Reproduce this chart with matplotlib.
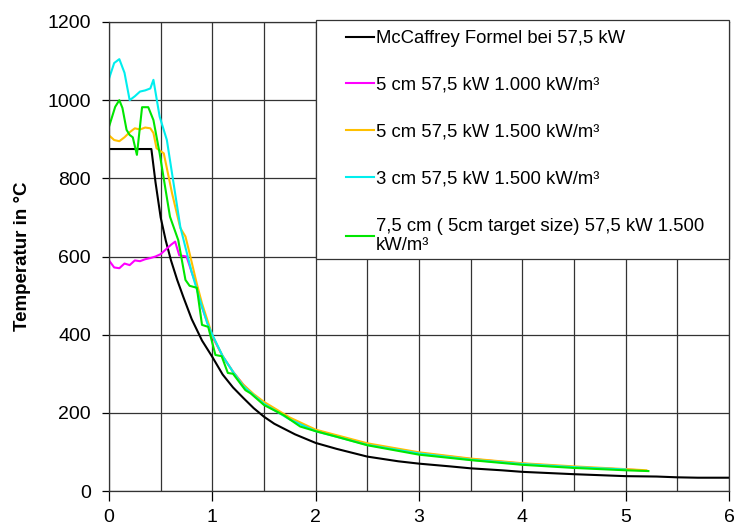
import matplotlib
matplotlib.use("Agg")
import matplotlib.pyplot as plt
from matplotlib.patches import Rectangle
from matplotlib.ticker import MultipleLocator

plt.rcParams['font.family'] = ['Liberation Sans', 'DejaVu Sans']

# McCaffrey plume temperature
x_mcc = [0, 0.41, 0.45, 0.5, 0.55, 0.6, 0.66, 0.72, 0.8, 0.9, 1.0, 1.1, 1.2, 1.3, 1.4,
         1.5, 1.6, 1.8, 2.0, 2.2, 2.5, 2.8, 3.0, 3.3, 3.5, 3.8, 4.0, 4.5, 5.0, 5.3,
         5.5, 5.7, 6.0]
t_mcc = [875, 875, 790, 700, 640, 590, 540, 496, 440, 385, 343, 298, 265, 238, 212,
         190, 172, 145, 123, 108, 88, 76, 70, 63, 58, 53, 49, 43, 38, 37, 35, 34, 34]

# 5 cm, 1000 kW/m3
x_5a = [0, 0.05, 0.1, 0.15, 0.2, 0.25, 0.3, 0.35, 0.4, 0.45, 0.5, 0.55, 0.6, 0.64,
        0.68, 0.75, 0.8, 0.85, 0.9, 1.0, 1.1, 1.2, 1.3, 1.4, 1.5, 1.75, 2.0, 2.5,
        3.0, 3.5, 4.0, 4.5, 5.0, 5.15]
t_5a = [590, 572, 570, 582, 578, 590, 588, 593, 596, 600, 606, 618, 630, 638, 603,
        600, 560, 523, 470, 395, 345, 305, 272, 245, 225, 185, 155, 120, 97, 82, 70,
        61, 55, 53]

# 5 cm, 1500 kW/m3
x_5b = [0, 0.05, 0.1, 0.15, 0.2, 0.25, 0.3, 0.35, 0.4, 0.43, 0.46, 0.53, 0.61, 0.69,
        0.74, 0.78, 0.85, 0.9, 1.0, 1.1, 1.2, 1.3, 1.4, 1.5, 1.75, 2.0, 2.5, 3.0,
        3.5, 4.0, 4.5, 5.0, 5.2]
t_5b = [910, 898, 895, 905, 918, 928, 925, 930, 928, 916, 877, 864, 762, 673, 651,
        608, 530, 480, 398, 345, 305, 272, 248, 228, 188, 157, 122, 99, 83, 71, 63,
        56, 53]

# 3 cm, 1500 kW/m3
x_3 = [0, 0.05, 0.1, 0.15, 0.2, 0.25, 0.3, 0.35, 0.4, 0.43, 0.49, 0.56, 0.69, 0.8,
       0.88, 0.95, 1.0, 1.1, 1.2, 1.3, 1.4, 1.5, 1.75, 2.0, 2.5, 3.0, 3.5, 4.0, 4.5,
       5.0]
t_3 = [1055, 1095, 1105, 1070, 1000, 1010, 1022, 1025, 1030, 1052, 958, 898, 676,
       560, 489, 430, 400, 345, 305, 268, 245, 223, 183, 153, 118, 96, 80, 69, 61, 55]

# 7,5 cm (5 cm target size), 1500 kW/m3
x_75 = [0, 0.06, 0.1, 0.13, 0.17, 0.2, 0.23, 0.27, 0.32, 0.38, 0.43, 0.49, 0.59,
        0.67, 0.74, 0.78, 0.85, 0.9, 0.96, 1.03, 1.09, 1.15, 1.2, 1.32, 1.37, 1.5,
        1.69, 1.85, 2.0, 2.2, 2.5, 3.0, 3.5, 4.0, 4.5, 5.0, 5.22]
t_75 = [932, 983, 1000, 980, 924, 911, 905, 860, 982, 982, 949, 864, 702, 642, 540,
        525, 520, 425, 420, 348, 345, 302, 300, 258, 250, 220, 194, 165, 153, 139,
        117, 93, 79, 67, 59, 53, 51]

labels = ["McCaffrey Formel bei 57,5 kW",
          "5 cm 57,5 kW 1.000 kW/m³",
          "5 cm 57,5 kW 1.500 kW/m³",
          "3 cm 57,5 kW 1.500 kW/m³",
          "7,5 cm ( 5cm target size) 57,5 kW 1.500\nkW/m³"]

W, H = 737, 526
fig = plt.figure(figsize=(W/100, H/100), dpi=100)
ax = fig.add_axes([109/W, 1-491/H, 620/W, 469/H])

ax.plot(x_mcc, t_mcc, color='black', lw=1.5, label=labels[0])
ax.plot(x_5a, t_5a, color='#ff00ff', lw=1.5, label=labels[1])
ax.plot(x_5b, t_5b, color='#ffc000', lw=1.5, label=labels[2])
ax.plot(x_3, t_3, color='#00eeee', lw=1.5, label=labels[3])
ax.plot(x_75, t_75, color='#00e600', lw=1.5, label=labels[4])

ax.set_xlim(0, 6)
ax.set_ylim(0, 1200)
ax.xaxis.set_major_locator(MultipleLocator(1))
ax.xaxis.set_minor_locator(MultipleLocator(0.5))
ax.yaxis.set_major_locator(MultipleLocator(200))
ax.grid(True, which='major', color='#333333', lw=0.9)
ax.grid(True, which='minor', axis='x', color='#333333', lw=0.9)
ax.set_axisbelow(True)
ax.tick_params(axis='x', which='major', direction='out', length=7, width=0.9,
               pad=6, labelsize=14)
ax.tick_params(axis='y', which='major', direction='out', length=5, width=0.9,
               pad=8, labelsize=14)
ax.tick_params(which='minor', length=0)
for s in ax.spines.values():
    s.set_color('#333333')
    s.set_linewidth(0.9)

ax.set_ylabel("Temperatur in °C", fontsize=13.5, fontweight='bold', labelpad=12)

# legend box drawn separately so the entries can sit with a wide left margin
box = Rectangle((316/W, 1-259/H), 413/W, 239/H, transform=fig.transFigure,
                facecolor='white', edgecolor='#333333', lw=0.9, zorder=3,
                clip_on=False)
ax.add_patch(box)

leg = ax.legend(loc='upper left', bbox_to_anchor=(346/W, 1-30/H),
                bbox_transform=fig.transFigure, borderaxespad=0, borderpad=0,
                fontsize=13.3, handlelength=1.5, handletextpad=0.1,
                labelspacing=1.62, frameon=False)
leg.set_zorder(4)

fig.savefig("out.png", dpi=100)
